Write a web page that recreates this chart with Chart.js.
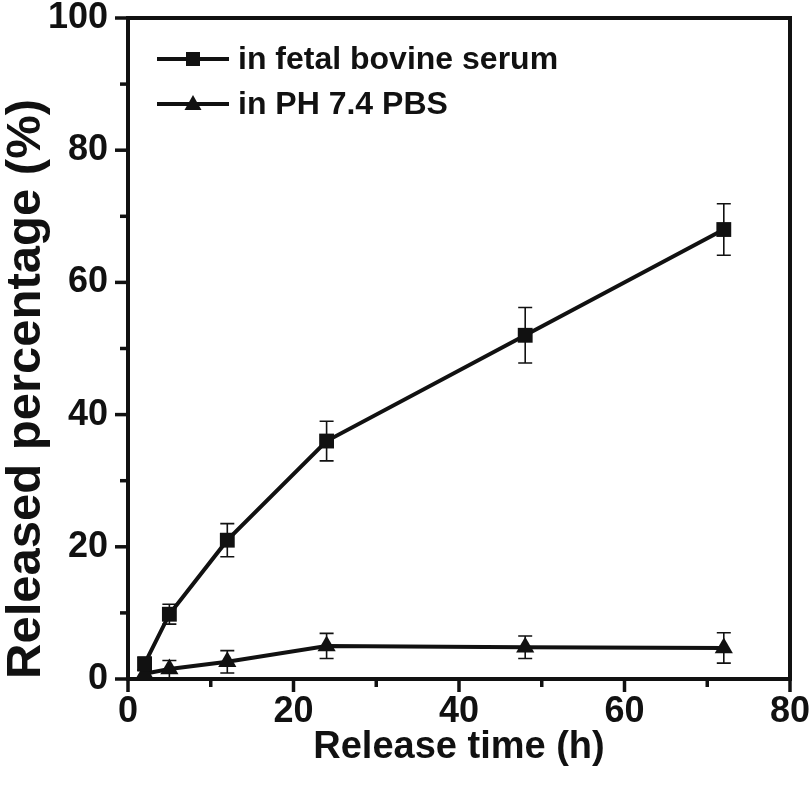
<!DOCTYPE html>
<html>
<head>
<meta charset="utf-8">
<script src="https://cdn.jsdelivr.net/npm/chart.js@4.4.1/dist/chart.umd.min.js"></script>
<style>
  html, body { margin: 0; padding: 0; background: #fff; }
  #wrap { width: 810px; height: 790px; }
</style>
</head>
<body>
<div id="wrap"><canvas id="c" width="810" height="790"></canvas></div>
<script>
// ---- data ----
const releaseTime = [2, 5, 12, 24, 48, 72];
const serumValues = [2.3, 9.8, 21, 36, 52, 68];
const serumErrors = [1.0, 1.5, 2.5, 3.0, 4.2, 3.9];
const pbsValues   = [0.8, 1.5, 2.6, 5.0, 4.8, 4.7];
const pbsErrors   = [0.5, 1.3, 1.7, 1.9, 1.7, 2.3];
const seriesNames = ['in fetal bovine serum', 'in PH 7.4 PBS'];
const xTickValues = [0, 20, 40, 60, 80];
const yTickValues = [0, 20, 40, 60, 80, 100];
const xTitle = 'Release time (h)';
const yTitle = 'Released percentage (%)';

const INK = '#111';
const FONT = "'Liberation Sans', Arial, sans-serif";

const toPts = (xs, ys) => xs.map((x, i) => ({ x: x, y: ys[i] }));

const errorBars = {
  id: 'errorBars',
  beforeDatasetsDraw(chart) {
    const ctx = chart.ctx, xs = chart.scales.x, ys = chart.scales.y;
    const sets = [[serumValues, serumErrors], [pbsValues, pbsErrors]];
    ctx.save();
    ctx.strokeStyle = INK;
    ctx.lineWidth = 1.6;
    sets.forEach(([vals, errs]) => {
      releaseTime.forEach((t, i) => {
        const px = xs.getPixelForValue(t);
        const top = ys.getPixelForValue(vals[i] + errs[i]);
        const bot = ys.getPixelForValue(vals[i] - errs[i]);
        ctx.beginPath();
        ctx.moveTo(px, top); ctx.lineTo(px, bot);
        ctx.moveTo(px - 7, top); ctx.lineTo(px + 7, top);
        ctx.moveTo(px - 7, bot); ctx.lineTo(px + 7, bot);
        ctx.stroke();
      });
    });
    ctx.restore();
  }
};

const frameAndTicks = {
  id: 'frameAndTicks',
  afterDraw(chart) {
    const ctx = chart.ctx, a = chart.chartArea, xs = chart.scales.x, ys = chart.scales.y;
    ctx.save();
    ctx.strokeStyle = INK;
    ctx.lineWidth = 4;
    ctx.strokeRect(a.left, a.top, a.right - a.left, a.bottom - a.top);
    ctx.lineWidth = 3.5;
    ctx.lineCap = 'butt';
    for (let v = 0; v <= 100; v += 10) {
      const py = ys.getPixelForValue(v);
      const len = (v % 20 === 0) ? 11 : 6;
      ctx.beginPath(); ctx.moveTo(a.left - 2, py); ctx.lineTo(a.left - 2 - len, py); ctx.stroke();
    }
    for (let v = 0; v <= 80; v += 10) {
      const px = xs.getPixelForValue(v);
      const len = (v % 20 === 0) ? 11 : 6;
      ctx.beginPath(); ctx.moveTo(px, a.bottom + 2); ctx.lineTo(px, a.bottom + 2 + len); ctx.stroke();
    }
    // legend
    const rows = [
      { y: a.top + 41, name: seriesNames[0], style: 'rect' },
      { y: a.top + 86, name: seriesNames[1], style: 'triangle' }
    ];
    rows.forEach(r => {
      ctx.lineWidth = 4;
      ctx.beginPath(); ctx.moveTo(157, r.y); ctx.lineTo(229, r.y); ctx.stroke();
      ctx.fillStyle = INK;
      if (r.style === 'rect') {
        ctx.fillRect(186, r.y - 7, 14, 14);
      } else {
        ctx.beginPath();
        ctx.moveTo(193, r.y - 9); ctx.lineTo(201.5, r.y + 6); ctx.lineTo(184.5, r.y + 6);
        ctx.closePath(); ctx.fill();
      }
      ctx.font = "bold 32px " + FONT;
      ctx.textBaseline = 'middle';
      ctx.textAlign = 'left';
      ctx.fillText(r.name, 238, r.y + 1);
    });
    ctx.restore();
  }
};

new Chart(document.getElementById('c'), {
  type: 'line',
  data: {
    datasets: [
      {
        label: seriesNames[0],
        data: toPts(releaseTime, serumValues),
        borderColor: INK, backgroundColor: INK, borderWidth: 4,
        pointStyle: 'rect', pointRadius: 10.5, pointHoverRadius: 10.5,
        pointBorderWidth: 0, tension: 0
      },
      {
        label: seriesNames[1],
        data: toPts(releaseTime, pbsValues),
        borderColor: INK, backgroundColor: INK, borderWidth: 4,
        pointStyle: 'triangle', pointRadius: 10.5, pointHoverRadius: 10.5,
        pointBorderWidth: 0, tension: 0
      }
    ]
  },
  options: {
    responsive: false,
    animation: false,
    events: [],
    layout: { autoPadding: false, padding: { left: 0, right: 20, top: 18, bottom: 0 } },
    plugins: { legend: { display: false }, tooltip: { enabled: false } },
    scales: {
      x: {
        type: 'linear', min: 0, max: 80,
        afterBuildTicks(s) { s.ticks = xTickValues.map(v => ({ value: v })); },
        afterFit(s) { s.height = 111; s.paddingLeft = 0; s.paddingRight = 0; },
        grid: { display: false, drawTicks: false },
        border: { display: false },
        ticks: { color: INK, padding: 11, maxRotation: 0, font: { family: FONT, weight: 'bold', size: 36 } },
        title: { display: true, text: xTitle, color: INK, padding: { top: 0, bottom: 20 },
                 font: { family: FONT, weight: 'bold', size: 38, lineHeight: 1.2 } }
      },
      y: {
        type: 'linear', min: 0, max: 100,
        afterBuildTicks(s) { s.ticks = yTickValues.map(v => ({ value: v })); },
        afterFit(s) { s.width = 128; s.paddingTop = 0; s.paddingBottom = 0; },
        grid: { display: false, drawTicks: false },
        border: { display: false },
        ticks: { color: INK, padding: 20, font: { family: FONT, weight: 'bold', size: 36 } },
        title: { display: true, text: yTitle, color: INK, align: 'start', padding: { top: 2, bottom: 0 },
                 font: { family: FONT, weight: 'bold', size: 49, lineHeight: 1.0 } }
      }
    }
  },
  plugins: [errorBars, frameAndTicks]
});
</script>
</body>
</html>
